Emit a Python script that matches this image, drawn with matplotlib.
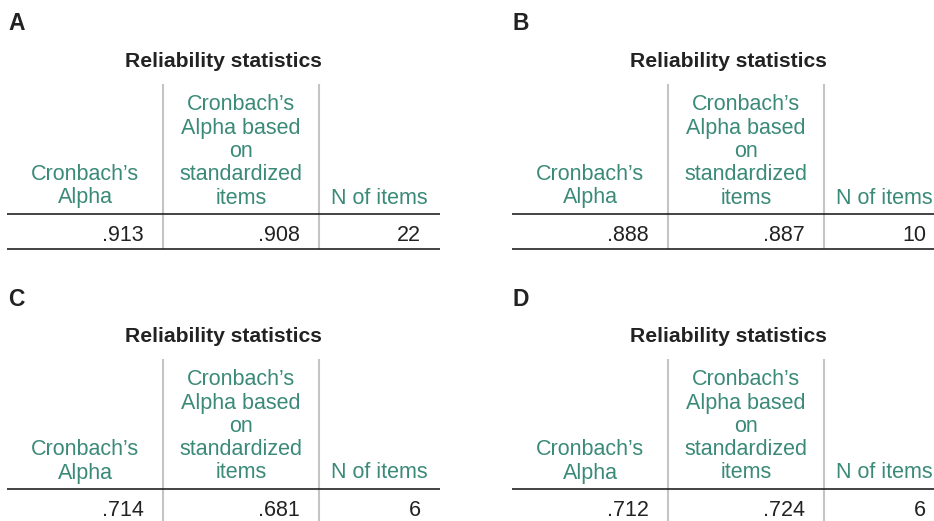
"""
Four "Reliability statistics" tables (SPSS-style), panels A-D.
"""

import matplotlib
matplotlib.use("Agg")
import matplotlib.pyplot as plt

# ---- data ----
panel_labels = ["A", "B", "C", "D"]
cronbach_alpha = [0.913, 0.888, 0.714, 0.712]
alpha_standardized = [0.908, 0.887, 0.681, 0.724]
n_items = [22, 10, 6, 6]

table_title = "Reliability statistics"
col_headers = [
    ["Cronbach\u2019s", "Alpha"],
    ["Cronbach\u2019s", "Alpha based", "on", "standardized", "items"],
    ["N of items"],
]

# ---- style ----
W, H = 934, 521
TEAL = "#3b8a78"
DARK = "#222222"
GRID = "#c4c4c4"
FONT = "Liberation Sans"

# layout of one panel in pixels (panel A); others are shifted
col_edges = [7, 163, 319, 440]
panel_dx, panel_dy = 505, 275
y_top, y_head, y_bottom = 84, 214, 249
head_base, line_step = 203.5, 23.3
value_base = 241
value_pad = 19


def fmt(v):
    # SPSS drops the leading zero
    return f"{v:.3f}".lstrip("0")


def draw_panel(ax, ox, oy, label, values):
    ax.text(ox + 8, oy + 30.5, label, fontsize=16.5, fontweight="bold",
            color=DARK, family=FONT, ha="left", va="baseline")
    cx = ox + (col_edges[0] + col_edges[-1]) / 2
    ax.text(cx, oy + 67, table_title, fontsize=15.2, fontweight="bold",
            color=DARK, family=FONT, ha="center", va="baseline")

    # column dividers
    for x in col_edges[1:-1]:
        ax.plot([ox + x, ox + x], [oy + y_top, oy + y_bottom],
                color=GRID, lw=1.5, solid_capstyle="butt")
    # horizontal rules
    for y in (y_head, y_bottom):
        ax.plot([ox + col_edges[0], ox + col_edges[-1]], [oy + y, oy + y],
                color=DARK, lw=1.2, solid_capstyle="butt")

    # header cells, bottom aligned
    for i, lines in enumerate(col_headers):
        xc = ox + (col_edges[i] + col_edges[i + 1]) / 2
        for k, txt in enumerate(reversed(lines)):
            ax.text(xc, oy + head_base - k * line_step, txt, fontsize=15.5,
                    color=TEAL, family=FONT, ha="center", va="baseline")

    # value cells, right aligned
    for i, txt in enumerate(values):
        ax.text(ox + col_edges[i + 1] - value_pad, oy + value_base, txt,
                fontsize=15.5, color=DARK, family=FONT,
                ha="right", va="baseline")


fig = plt.figure(figsize=(W / 100, H / 100), dpi=100)
ax = fig.add_axes([0, 0, 1, 1])
ax.set_xlim(0, W)
ax.set_ylim(H, 0)
ax.axis("off")

for p, label in enumerate(panel_labels):
    ox = (p % 2) * panel_dx
    oy = (p // 2) * panel_dy
    vals = [fmt(cronbach_alpha[p]), fmt(alpha_standardized[p]), str(n_items[p])]
    draw_panel(ax, ox, oy, label, vals)

fig.savefig("out.png", dpi=100, facecolor="white")
